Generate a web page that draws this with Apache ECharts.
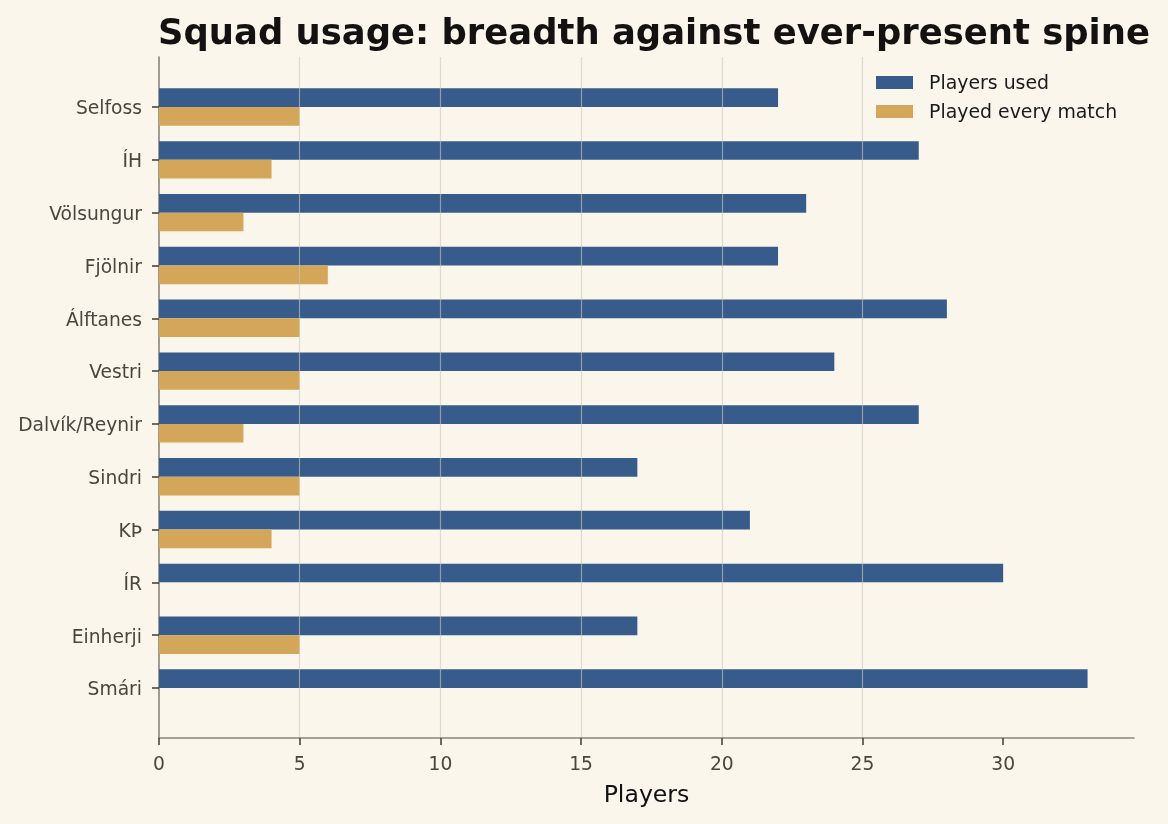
<!DOCTYPE html>
<html>
<head>
<meta charset="utf-8">
<script src="https://cdn.jsdelivr.net/npm/echarts@6/dist/echarts.min.js"></script>
<style>
  html, body { margin: 0; padding: 0; background: #faf6ec; }
  #root { width: 1168px; height: 824px; }
</style>
</head>
<body>
<div id="root"></div>
<script>
var teams = ['Selfoss', 'ÍH', 'Völsungur', 'Fjölnir', 'Álftanes', 'Vestri', 'Dalvík/Reynir', 'Sindri', 'KÞ', 'ÍR', 'Einherji', 'Smári'];
var playersUsed = [22, 27, 23, 22, 28, 24, 27, 17, 21, 30, 17, 33];
var everyMatch = [5, 4, 3, 6, 5, 5, 3, 5, 4, 0, 5, 0];
var xTicks = [0, 5, 10, 15, 20, 25, 30];

var font = 'DejaVu Sans';
var tickColor = '#4a463e';
var xMax = 34.65;

var myChart = echarts.init(document.getElementById('root'), null, { renderer: 'canvas' });

var option = {
  backgroundColor: '#faf6ec',
  animation: false,
  title: {
    text: 'Squad usage: breadth against ever-present spine',
    left: 153,
    top: 12,
    textStyle: { fontFamily: font, fontSize: 35.4, fontWeight: 'bold', color: '#141210' }
  },
  legend: {
    orient: 'vertical',
    left: 871,
    top: 66.5,
    itemWidth: 37,
    itemHeight: 13,
    itemGap: 7,
    icon: 'rect',
    formatter: function (n) { return '{t|' + n + '}'; },
    textStyle: {
      rich: { t: { fontFamily: font, fontSize: 18.9, lineHeight: 19, color: '#1a1a1a', padding: [3, 0, 0, 11] } }
    },
    data: ['Players used', 'Played every match']
  },
  grid: [
    // frame: axes lines, grid lines, x labels
    { left: 159, right: 34, top: 57, bottom: 86 },
    // bars, aligned with the category ticks
    { left: 159, right: 34, top: 80.6, bottom: 109.6 }
  ],
  xAxis: [
    {
      gridIndex: 0,
      type: 'value',
      min: 0,
      max: xMax,
      interval: 5,
      z: 5,
      name: 'Players',
      nameLocation: 'middle',
      nameGap: 46,
      nameTextStyle: { fontFamily: font, fontSize: 23.6, color: '#111' },
      axisLine: { show: true, lineStyle: { color: '#8a857a', width: 1.6 } },
      axisTick: { show: true, length: 7, customValues: xTicks, lineStyle: { color: tickColor, width: 1.6 } },
      axisLabel: { customValues: xTicks, margin: 18, fontFamily: font, fontSize: 18.7, color: tickColor },
      splitLine: { show: true, showMinLine: false, showMaxLine: false, lineStyle: { color: 'rgba(205,200,188,0.6)', width: 1.2 } }
    },
    {
      gridIndex: 1,
      type: 'value',
      min: 0,
      max: xMax,
      show: false
    }
  ],
  yAxis: [
    {
      gridIndex: 0,
      type: 'value',
      min: 0,
      max: 1,
      axisLine: { show: true, lineStyle: { color: '#8a857a', width: 1.6 } },
      axisTick: { show: false },
      axisLabel: { show: false },
      splitLine: { show: false }
    },
    {
      gridIndex: 1,
      type: 'category',
      inverse: true,
      data: teams,
      axisLine: { show: false },
      axisTick: { show: true, length: 7, alignWithLabel: true, lineStyle: { color: tickColor, width: 1.6 } },
      axisLabel: {
        margin: 17,
        formatter: function (v) { return '{t|' + v + '}'; },
        rich: { t: { fontFamily: font, fontSize: 18.7, color: tickColor, padding: [5, 0, 0, 0] } }
      },
      splitLine: { show: false }
    }
  ],
  series: [
    {
      name: 'Players used',
      type: 'bar',
      xAxisIndex: 1,
      yAxisIndex: 1,
      barWidth: 18.7,
      barGap: '0%',
      itemStyle: { color: '#375c8b' },
      data: playersUsed
    },
    {
      name: 'Played every match',
      type: 'bar',
      xAxisIndex: 1,
      yAxisIndex: 1,
      barWidth: 18.7,
      barGap: '0%',
      itemStyle: { color: '#d4a659' },
      data: everyMatch
    }
  ]
};

option && myChart.setOption(option);
</script>
</body>
</html>
